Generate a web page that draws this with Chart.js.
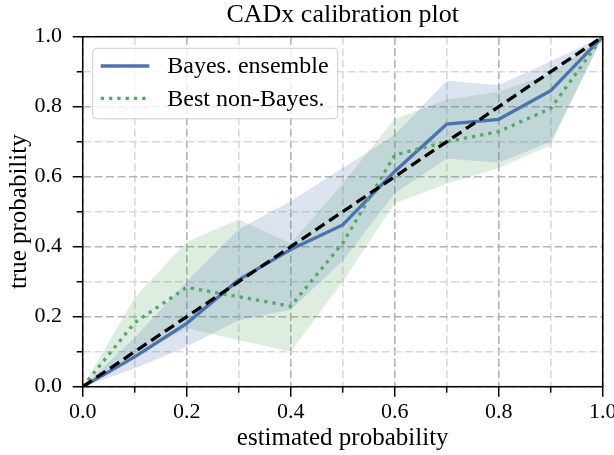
<!DOCTYPE html>
<html>
<head>
<meta charset="utf-8">
<style>
  html, body { margin: 0; padding: 0; background: #fff; }
  .chartBox { position: relative; width: 614px; height: 455px; }
</style>
</head>
<body>
<div class="chartBox">
  <canvas id="myChart"></canvas>
</div>

<script type="text/javascript" src="https://cdn.jsdelivr.net/npm/chart.js"></script>

<script>
// setup - values
const probs = [0.0, 0.1, 0.2, 0.3, 0.4, 0.5, 0.6, 0.7, 0.8, 0.9, 1.0];

const bayesMean = [0.0, 0.085, 0.181, 0.305, 0.392, 0.462, 0.615, 0.75, 0.764, 0.846, 1.0];
const bayesLow  = [0.0, 0.052, 0.114, 0.19, 0.22, 0.36, 0.552, 0.652, 0.64, 0.70, 1.0];
const bayesHigh = [0.0, 0.14, 0.30, 0.45, 0.53, 0.625, 0.72, 0.874, 0.862, 0.93, 1.0];

const nonBayesMean = [0.0, 0.183, 0.284, 0.257, 0.23, 0.41, 0.662, 0.70, 0.729, 0.795, 1.0];
const nonBayesLow  = [0.0, 0.086, 0.167, 0.133, 0.10, 0.30, 0.524, 0.58, 0.625, 0.69, 1.0];
const nonBayesHigh = [0.0, 0.255, 0.414, 0.478, 0.41, 0.58, 0.765, 0.82, 0.843, 0.895, 1.0];

const perfectX = [0.0, 1.0];
const perfectY = [0.0, 1.0];

const tickLabels = ['0.0', '0.2', '0.4', '0.6', '0.8', '1.0'];
const legendLabels = ['Bayes. ensemble', 'Best non-Bayes.'];

const BLUE = '#4c72b0';
const GREEN = '#55a868';
const SERIF = "'Liberation Serif', 'DejaVu Serif', serif";

const pts = (xs, ys) => xs.map((x, i) => ({x: x, y: ys[i]}));
const tickText = (v, i) => (i % 2 === 0 ? tickLabels[i / 2] : '');

// frame, tick marks and legend box
const decorations = {
  id: 'decorations',
  afterDraw(chart) {
    const {ctx, chartArea: ca, scales: {x, y}} = chart;
    ctx.save();
    ctx.strokeStyle = '#000';
    ctx.lineWidth = 1.5;
    probs.forEach((v, i) => {
      const len = i % 2 === 0 ? 10 : 6;
      const px = x.getPixelForValue(v);
      const py = y.getPixelForValue(v);
      ctx.beginPath();
      ctx.moveTo(px, ca.bottom);
      ctx.lineTo(px, ca.bottom + len);
      ctx.moveTo(ca.left, py);
      ctx.lineTo(ca.left - len, py);
      ctx.stroke();
    });
    ctx.strokeRect(ca.left, ca.top, ca.right - ca.left, ca.bottom - ca.top);

    // legend
    const lx = ca.left + 10, ly = ca.top + 11.6, lw = 245, lh = 70.5;
    ctx.beginPath();
    ctx.roundRect(lx, ly, lw, lh, 4);
    ctx.fillStyle = 'rgba(255,255,255,0.8)';
    ctx.fill();
    ctx.lineWidth = 1;
    ctx.strokeStyle = '#cccccc';
    ctx.stroke();

    const rows = [ly + 17.7, ly + 50];
    ctx.lineWidth = 3.3;
    ctx.strokeStyle = BLUE;
    ctx.beginPath();
    ctx.moveTo(lx + 8, rows[0]);
    ctx.lineTo(lx + 56.6, rows[0]);
    ctx.stroke();
    ctx.strokeStyle = GREEN;
    ctx.setLineDash([3.3, 5]);
    ctx.beginPath();
    ctx.moveTo(lx + 8, rows[1]);
    ctx.lineTo(lx + 56.6, rows[1]);
    ctx.stroke();
    ctx.setLineDash([]);

    ctx.fillStyle = '#000';
    ctx.font = '24px ' + SERIF;
    ctx.textBaseline = 'middle';
    ctx.textAlign = 'left';
    legendLabels.forEach((t, i) => ctx.fillText(t, lx + 74.6, rows[i] + 1));
    ctx.restore();
  }
};

const data = {
  datasets: [
    { data: pts(probs, bayesLow), borderWidth: 0, pointRadius: 0, fill: false, order: 5 },
    { data: pts(probs, bayesHigh), borderWidth: 0, pointRadius: 0, fill: '-1',
      backgroundColor: 'rgba(76,114,176,0.2)', order: 5 },
    { data: pts(probs, nonBayesLow), borderWidth: 0, pointRadius: 0, fill: false, order: 6 },
    { data: pts(probs, nonBayesHigh), borderWidth: 0, pointRadius: 0, fill: '-1',
      backgroundColor: 'rgba(85,168,104,0.2)', order: 6 },
    { data: pts(probs, bayesMean), borderColor: BLUE, borderWidth: 3.3, pointRadius: 0,
      fill: false, order: 2 },
    { data: pts(probs, nonBayesMean), borderColor: GREEN, borderWidth: 3.3, pointRadius: 0,
      borderDash: [3.3, 5], borderCapStyle: 'butt', fill: false, order: 1 },
    { data: pts(perfectX, perfectY), borderColor: '#000', borderWidth: 3.3, pointRadius: 0,
      borderDash: [11, 5.5], fill: false, order: 0 }
  ]
};

const gridColor = (c) => (c.index % 2 === 0 ? '#b3b3b3' : '#d9d9d9');

// config
const config = {
  type: 'line',
  data,
  options: {
    responsive: true,
    maintainAspectRatio: false,
    animation: false,
    layout: { padding: { top: 0, right: 11.3, left: 0, bottom: 0 } },
    plugins: {
      legend: { display: false },
      tooltip: { enabled: false },
      filler: { drawTime: 'beforeDatasetsDraw' },
      title: {
        display: true,
        fullSize: false,
        text: 'CADx calibration plot',
        color: '#000',
        font: { family: SERIF, size: 26, weight: 'normal', lineHeight: 1.2 },
        padding: { top: 0, bottom: 5.5 }
      }
    },
    scales: {
      x: {
        type: 'linear',
        min: 0, max: 1,
        afterFit(s) { s.height = 68.3; s.paddingLeft = 0; s.paddingRight = 0; },
        ticks: { stepSize: 0.1, autoSkip: false, maxRotation: 0, padding: 12,
                 color: '#000', font: { family: SERIF, size: 22 }, callback: tickText },
        grid: { color: gridColor, lineWidth: 1.6, drawTicks: false },
        border: { display: false, dash: [8, 3.5] },
        title: { display: true, text: 'estimated probability', color: '#000',
                 font: { family: SERIF, size: 25, lineHeight: 1.2 }, padding: { bottom: 2 } }
      },
      y: {
        type: 'linear',
        min: 0, max: 1,
        afterFit(s) { s.width = 82.7; s.paddingTop = 0; s.paddingBottom = 0; },
        ticks: { stepSize: 0.1, autoSkip: false, padding: 20.7,
                 color: '#000', font: { family: SERIF, size: 22 }, callback: tickText },
        grid: { color: gridColor, lineWidth: 1.6, drawTicks: false },
        border: { display: false, dash: [8, 3.5] },
        title: { display: true, text: 'true probability', color: '#000',
                 font: { family: SERIF, size: 25, lineHeight: 1.2 }, padding: { top: 4 } }
      }
    }
  },
  plugins: [decorations]
};

// render
const myChart = new Chart(document.getElementById('myChart'), config);
</script>
</body>
</html>
